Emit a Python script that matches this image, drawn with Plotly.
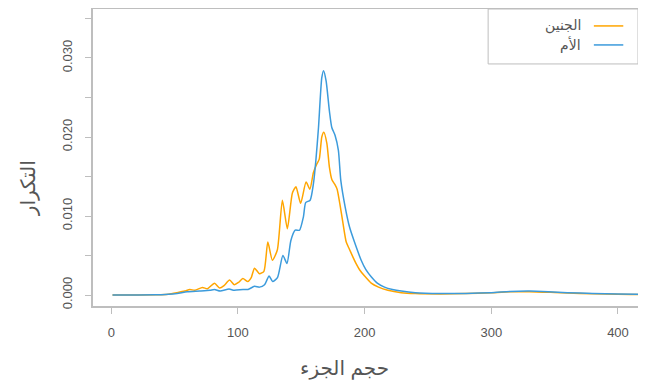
import plotly.graph_objects as go

# Fetus (الجنين) density
fetus_x = [1, 20, 35, 45, 52, 58, 62, 66, 72, 76, 81.5, 85.5, 89, 93.4, 97.2, 100.5, 103.9, 107.8,
           110.5, 113.1, 117, 120.5, 123.6, 127.2, 131.1, 135.1, 139, 143, 145.8, 149.5, 153.8,
           156.8, 159.6, 162.3, 164.2, 166.2, 167.8, 170.2, 172.2, 174.2, 176.5, 178.3, 180.4,
           183, 185.5, 188, 190.8, 193.5, 196, 200, 205.2, 211, 218.4, 228.9, 240, 260, 280,
           300, 315, 330, 350, 370, 390, 410, 420]
fetus_y = [0, 0, 0.00002, 0.0001, 0.0003, 0.0005, 0.0007, 0.0006, 0.00095, 0.0008, 0.0015, 0.0009,
           0.0012, 0.0019, 0.0013, 0.0016, 0.0021, 0.0017, 0.0022, 0.0034, 0.0027, 0.0030, 0.0067,
           0.0044, 0.0057, 0.0120, 0.0084, 0.0129, 0.0137, 0.0116, 0.0143, 0.0134, 0.0155, 0.0166,
           0.0172, 0.0200, 0.0206, 0.0192, 0.0162, 0.0146, 0.0140, 0.0134, 0.0116, 0.0090, 0.0067,
           0.0058, 0.0048, 0.0039, 0.0032, 0.0024, 0.0015, 0.0010, 0.0006, 0.0003, 0.00018,
           0.00014, 0.00018, 0.0003, 0.0004, 0.00042, 0.00032, 0.0002, 0.00012, 0.00008, 0.00006]

# Mother (الأم) density
mother_x = [1, 20, 35, 45, 52, 60, 70, 78, 81.5, 86, 93, 97, 104, 108, 113, 117, 121, 124.6, 127.4,
            131.2, 135.5, 138.7, 141.8, 145.2, 148.6, 151.7, 153.5, 157, 159.6, 161.5, 163.6,
            166.2, 167.6, 169.6, 172.2, 174.1, 176.7, 179.3, 181.2, 184.7, 188.1, 192, 197.3,
            201, 205.2, 210, 215.7, 222, 228.9, 240, 260, 280, 300, 315, 330, 345, 360, 380,
            400, 420]
mother_y = [0, 0, 0.00002, 0.0001, 0.0002, 0.0004, 0.0005, 0.0006, 0.0007, 0.0005, 0.00075, 0.0006,
            0.0007, 0.0007, 0.0011, 0.0010, 0.0013, 0.0024, 0.0017, 0.0022, 0.0050, 0.0040, 0.0069,
            0.0082, 0.0082, 0.0099, 0.0117, 0.0120, 0.0141, 0.0170, 0.0212, 0.0275, 0.0284, 0.0271,
            0.0233, 0.0212, 0.0202, 0.0183, 0.0145, 0.0111, 0.0086, 0.0067, 0.0044, 0.0032, 0.0023,
            0.0015, 0.0010, 0.0007, 0.0005, 0.0003, 0.0002, 0.0002, 0.0003, 0.00045, 0.0005,
            0.00042, 0.0003, 0.0002, 0.00012, 0.00008]

x_ticks = [0, 100, 200, 300, 400]
y_ticks = [0, 0.005, 0.010, 0.015, 0.020, 0.025, 0.030, 0.035]
y_ticktext = ["0.000", "", "0.010", "", "0.020", "", "0.030", ""]

series_names = ["الجنين", "الأم"]
colors = ["#FFA500", "#3C9BDC"]
x_title = "حجم الجزء"
y_title = "التكرار"

FONT = "Liberation Sans, Arial, DejaVu Sans, sans-serif"
GRAY = "#BEBEBE"
TXT = "#555555"

fig = go.Figure()
fig.add_trace(go.Scatter(x=fetus_x, y=fetus_y, mode="lines", name=series_names[0],
                         line=dict(color=colors[0], width=1.5, shape="spline", smoothing=0.6)))
fig.add_trace(go.Scatter(x=mother_x, y=mother_y, mode="lines", name=series_names[1],
                         line=dict(color=colors[1], width=1.5, shape="spline", smoothing=0.6)))

# the page body adds an 8px offset, so the figure is 8px smaller than the window
fig.update_layout(
    width=638, height=375,
    margin=dict(l=85, r=8, t=1, b=77, autoexpand=False),
    paper_bgcolor="white", plot_bgcolor="white",
    showlegend=False,
    font=dict(family=FONT, color=TXT, size=13),
)
fig.update_xaxes(range=[-14.4, 415.8], tickvals=x_ticks, ticks="outside", ticklen=6,
                 tickcolor=GRAY, tickwidth=1, showgrid=False, zeroline=False,
                 showline=True, linecolor=GRAY, linewidth=1.5, mirror=True, automargin=False,
                 tickfont=dict(size=13, color=TXT), ticklabelstandoff=8)
fig.update_yaxes(range=[-0.00139, 0.0362], tickvals=y_ticks, ticktext=y_ticktext,
                 ticks="outside", ticklen=6, tickcolor=GRAY, tickwidth=1, showgrid=False,
                 zeroline=False, showline=True, linecolor=GRAY, linewidth=1.5, mirror=True,
                 automargin=False,
                 tickangle=-90, tickfont=dict(size=13, color=TXT), ticklabelstandoff=8)

# axis titles
fig.add_annotation(text=y_title, xref="paper", yref="paper", x=-0.119, y=0.397,
                   textangle=-90, showarrow=False, font=dict(size=20, color=TXT, family=FONT),
                   xanchor="center", yanchor="middle")
fig.add_annotation(text=x_title, xref="paper", yref="paper", x=0.462, y=-0.209,
                   showarrow=False, font=dict(size=20, color=TXT, family=FONT),
                   xanchor="center", yanchor="middle")

# legend (text left, line right)
fig.add_shape(type="rect", xref="paper", yref="paper", x0=0.725, x1=1.0, y0=0.815, y1=1.0,
              line=dict(color=GRAY, width=1), fillcolor="white")
for i, (nm, col) in enumerate(zip(series_names, colors)):
    yy = 0.943 - i * 0.064
    fig.add_shape(type="line", xref="paper", yref="paper", x0=0.919, x1=0.973, y0=yy, y1=yy,
                  line=dict(color=col, width=1.5))
    fig.add_annotation(text=nm, xref="paper", yref="paper", x=0.899, y=yy, xanchor="right",
                       yanchor="middle", showarrow=False,
                       font=dict(size=14, color=TXT, family=FONT))

fig.write_html("out.html")
